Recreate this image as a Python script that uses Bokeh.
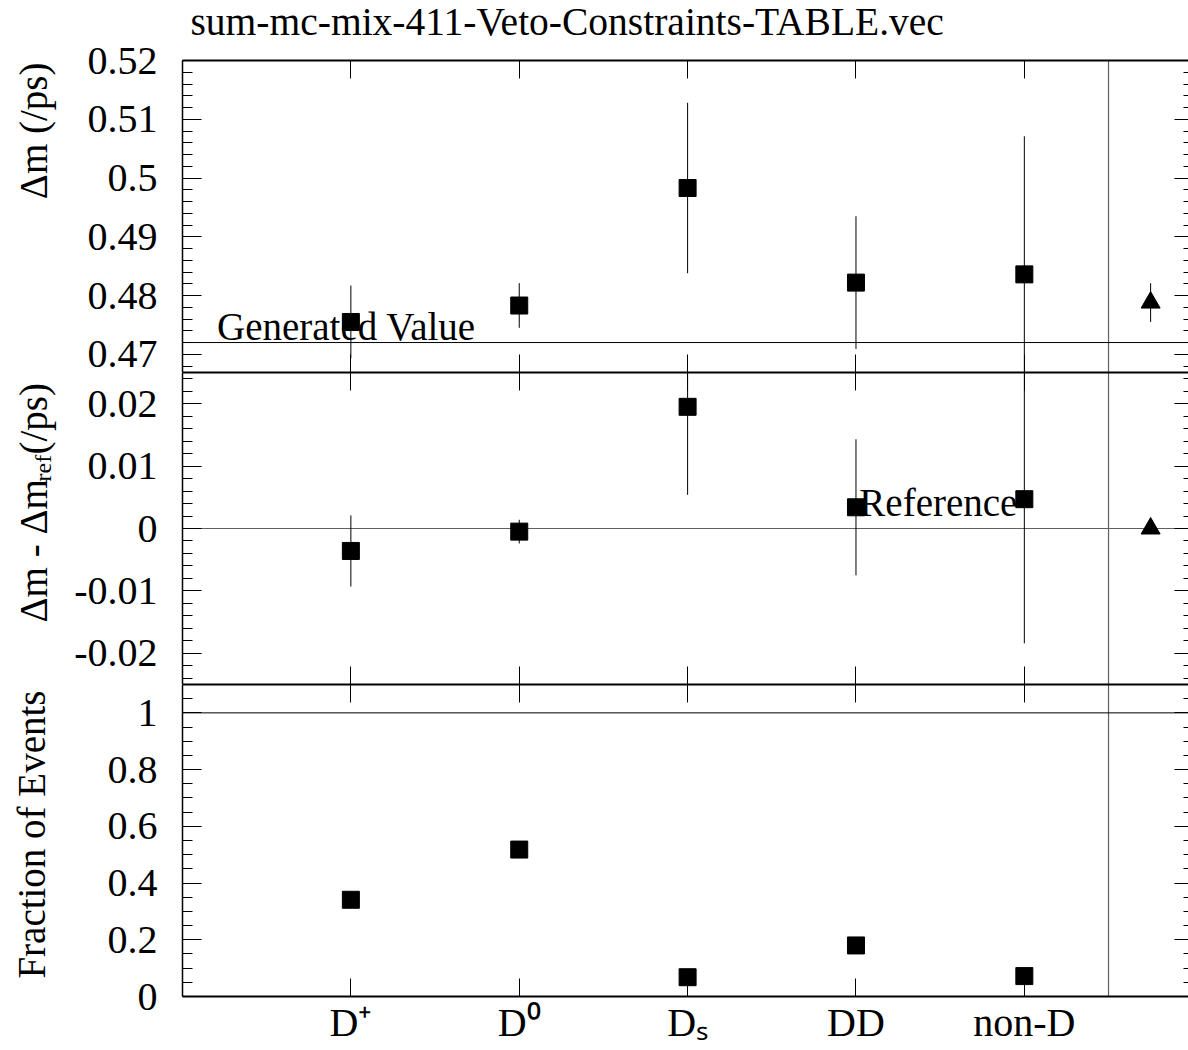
import math
from bokeh.plotting import figure
from bokeh.layouts import column, row
from bokeh.models import (Range1d, FixedTicker, LinearAxis, Span, CustomLabelingPolicy)
from bokeh.core.properties import value
from bokeh.embed import file_html
from bokeh.resources import INLINE

FONT = "Liberation Serif"

# ---------------- data ----------------
title_text = "sum-mc-mix-411-Veto-Constraints-TABLE.vec"
categories = ["D\u207a", "D\u2070", "D\u209b", "DD", "non-D"]
cat_x = [1, 2, 3, 4, 5]

# top panel: Delta m (/ps)
dm_val = [0.4755, 0.4783, 0.4983, 0.4822, 0.4836]
dm_err = [0.0062, 0.0038, 0.0145, 0.0113, 0.0235]
ref_x = [5.75]
ref_dm = [0.4788]
ref_dm_err = [0.0033]
gen_value = 0.472

# middle panel: Delta m - Delta m_ref (/ps)
diff_val = [-0.0036, -0.0005, 0.0195, 0.0034, 0.0047]
diff_err = [0.0057, 0.0019, 0.0141, 0.0109, 0.0231]
ref_diff = [0.0]
ref_line = 0.0

# bottom panel: fraction of events
frac_val = [0.341, 0.518, 0.068, 0.180, 0.072]
frac_line = 1.0

sep_x = 5.5

top_ticks = [0.47, 0.48, 0.49, 0.5, 0.51, 0.52]
top_tick_labels = ["0.47", "0.48", "0.49", "0.5", "0.51", "0.52"]
top_minor = [round(0.466 + 0.002 * i, 3) for i in range(28)]
mid_ticks = [-0.02, -0.01, 0.0, 0.01, 0.02]
mid_tick_labels = ["-0.02", "-0.01", "0", "0.01", "0.02"]
mid_minor = [round(-0.024 + 0.002 * i, 3) for i in range(25)]
bot_ticks = [0.0, 0.2, 0.4, 0.6, 0.8, 1.0]
bot_tick_labels = ["0", "0.2", "0.4", "0.6", "0.8", "1"]
bot_minor = [round(0.05 * i, 2) for i in range(22)]

H = 1050
LW = 60            # strip that carries the rotated axis titles
W = 1188 - LW
LEFT = 122
XMAX = 5.975
TITLE_H = 44

NO_LABELS = """
try { for (const i of Array.from(indices)) { indices.unset(i) } } catch (e) {}
return indices
"""


def hidden_axis(ticker, tin, minor_in, line_color, lw):
    return LinearAxis(ticker=ticker, major_label_text_font_size="0px",
                      major_label_policy=CustomLabelingPolicy(code=NO_LABELS),
                      major_label_standoff=0, major_tick_in=tin, major_tick_out=0,
                      minor_tick_in=minor_in, minor_tick_out=0, axis_line_color=line_color,
                      axis_line_width=lw, major_tick_line_color="black",
                      minor_tick_line_color="black")


def make_panel(height, yr, ticks, labels, minor, top, bottom, show_x_labels=False):
    p = figure(width=W, height=height, x_range=Range1d(0, XMAX), y_range=Range1d(*yr),
               output_backend="svg", toolbar_location=None,
               x_axis_location=None, y_axis_location=None,
               min_border_left=LEFT, min_border_right=0,
               min_border_top=top, min_border_bottom=bottom)
    p.outline_line_color = None
    p.grid.visible = False

    yticker = FixedTicker(ticks=ticks, minor_ticks=minor)
    ya = LinearAxis(ticker=yticker,
                    major_label_overrides={t: l for t, l in zip(ticks, labels)},
                    major_tick_in=19, major_tick_out=0, minor_tick_in=10, minor_tick_out=0,
                    major_label_standoff=25, major_label_text_font=FONT,
                    major_label_text_font_size="40px", major_label_text_color="black",
                    axis_line_color="black", axis_line_width=1.5,
                    major_tick_line_color="black", minor_tick_line_color="black")
    p.add_layout(ya, "left")
    p.add_layout(hidden_axis(yticker, 14, 5, None, 1), "right")

    xticker = FixedTicker(ticks=cat_x, minor_ticks=[])
    p.add_layout(hidden_axis(xticker, 18, 0, "black", 2), "above")
    if show_x_labels:
        xb = LinearAxis(ticker=xticker,
                        major_label_overrides={x: c for x, c in zip(cat_x, categories)},
                        major_label_standoff=3, major_tick_in=18, major_tick_out=0,
                        minor_tick_in=0, minor_tick_out=0, axis_line_color="black",
                        axis_line_width=2, major_tick_line_color="black",
                        major_label_text_font=FONT, major_label_text_font_size="40px",
                        major_label_text_color="black")
        p.add_layout(xb, "below")
    else:
        p.add_layout(hidden_axis(xticker, 18, 0, "black", 2), "below")

    p.add_layout(Span(location=sep_x, dimension="height", line_color="#606060",
                      line_width=1.2, level="underlay"))
    return p


def errbars(p, xs, vals, errs):
    lo = [v - e for v, e in zip(vals, errs)]
    hi = [v + e for v, e in zip(vals, errs)]
    p.segment(x0=xs, y0=lo, x1=xs, y1=hi, line_color="black", line_width=1)


def note(p, x, y, text, dy):
    r = p.text(x=[x], y=[y], text=[text], y_offset=dy, text_align="left",
               text_baseline="middle", text_font=value(FONT), text_font_size="39px",
               text_color="black")
    r.level = "underlay"


# ---------------- title strip (frame aligned with the panels below) ----------------
tfig = figure(width=W, height=TITLE_H, x_range=Range1d(0, W - LEFT), y_range=Range1d(0, TITLE_H),
              output_backend="svg", toolbar_location=None,
              x_axis_type=None, y_axis_type=None,
              min_border_left=LEFT, min_border_right=0, min_border_top=0, min_border_bottom=0)
tfig.outline_line_color = None
tfig.grid.visible = False
tfig.text(x=[8], y=[TITLE_H - 21.5], text=[title_text], text_align="left",
          text_baseline="middle", text_font=value(FONT), text_font_size="39.5px",
          text_color="black")

# ---------------- top panel ----------------
p1 = make_panel(372 - TITLE_H, (0.4669, 0.52000001), top_ticks, top_tick_labels, top_minor,
                60 - TITLE_H, 0)
p1.add_layout(Span(location=gen_value, dimension="width", line_color="black",
                   line_width=1, level="underlay"))
note(p1, 0.205, gen_value, "Generated Value", -16)
errbars(p1, cat_x, dm_val, dm_err)
p1.scatter(cat_x, dm_val, marker="square", size=17, fill_color="black", line_color="black")
errbars(p1, ref_x, ref_dm, ref_dm_err)
p1.scatter(ref_x, ref_dm, marker="triangle", size=19, fill_color="black", line_color="black")

# ---------------- middle panel ----------------
p2 = make_panel(312, (-0.025, 0.025), mid_ticks, mid_tick_labels, mid_minor, 0, 0)
p2.add_layout(Span(location=ref_line, dimension="width", line_color="#606060",
                   line_width=1.2, level="underlay"))
note(p2, 4.02, ref_line, "Reference", -26)
errbars(p2, cat_x, diff_val, diff_err)
p2.scatter(cat_x, diff_val, marker="square", size=17, fill_color="black", line_color="black")
p2.scatter(ref_x, ref_diff, marker="triangle", size=19, fill_color="black", line_color="black")

# ---------------- bottom panel ----------------
p3 = make_panel(366, (0, 1.1), bot_ticks, bot_tick_labels, bot_minor, 0, 54, show_x_labels=True)
p3.add_layout(Span(location=frac_line, dimension="width", line_color="black",
                   line_width=1, level="underlay"))
p3.scatter(cat_x, frac_val, marker="square", size=17, fill_color="black", line_color="black")

# ---------------- rotated axis titles (strip on the left) ----------------
lab = figure(width=LW, height=H, x_range=Range1d(0, LW), y_range=Range1d(0, H),
             output_backend="svg", toolbar_location=None,
             x_axis_type=None, y_axis_type=None, min_border=0)
lab.outline_line_color = None
lab.grid.visible = False


def vtext(x, y, text, align, size):
    lab.text(x=[x], y=[y], text=[text], angle=math.pi / 2, text_align=align,
             text_baseline="middle", text_font=value(FONT), text_font_size=size,
             text_color="black")


vtext(33, H - 62, "\u0394m (/ps)", "right", "39px")
vtext(33, H - 622, "\u0394m - \u0394m", "left", "39px")
vtext(42, H - 481, "ref", "left", "24px")
vtext(33, H - 454, "(/ps)", "left", "39px")
vtext(31, H - 690, "Fraction of Events", "right", "39px")

layout = row(lab, column(tfig, p1, p2, p3, spacing=0), spacing=0)
open("out.html", "w").write(file_html(layout, INLINE))
